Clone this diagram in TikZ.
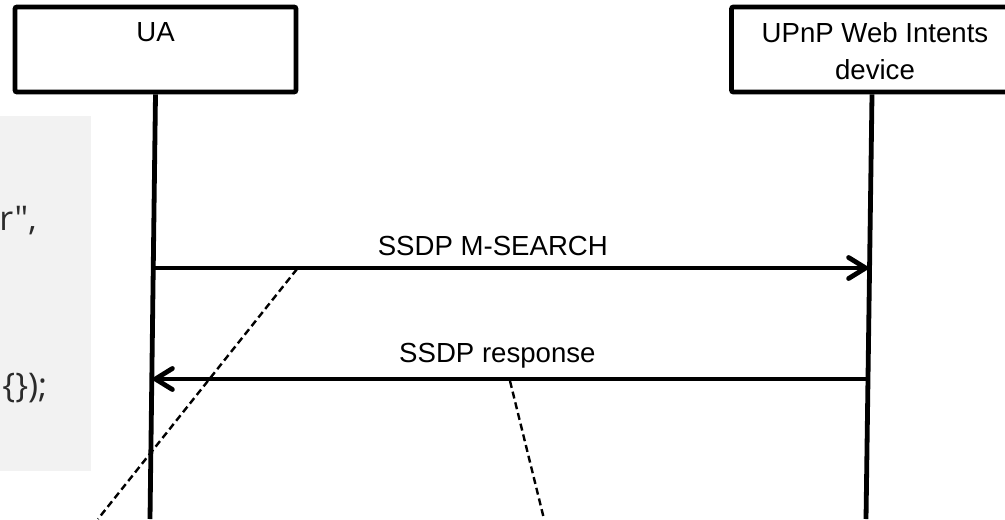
\documentclass[tikz,border=0pt]{standalone}
\usepackage{fontspec}
\setmainfont{Liberation Sans}
\newfontfamily\codefont{Open Sans}
\usetikzlibrary{arrows.meta}
\definecolor{codebg}{HTML}{F2F2F2}
\definecolor{codefg}{HTML}{2B2B2B}
\tikzset{
	entity/.style={
			draw, line width=2.4pt, rounded corners=1pt,
			minimum width=140.5pt, minimum height=42.5pt
		},
	entitytext/.style={font=\fontsize{13.8}{18.5}\selectfont, align=center, inner sep=0pt},
	lifeline/.style={line width=2.4pt},
	message/.style={line width=2.4pt, -{Straight Barb[length=8.5pt,width=10.5pt,round]}},
	msglabel/.style={font=\fontsize{13.8}{16.5}\selectfont, anchor=base, inner sep=0pt},
	cutline/.style={line width=1.2pt, dash pattern=on 3.5pt off 2pt},
	codetext/.style={font=\codefont\fontsize{17}{20}\selectfont, text=codefg, inner sep=0pt}
}

\begin{document}
\begin{tikzpicture}[x=0.5pt, y=-0.5pt]
		\useasboundingbox (0, 0) rectangle (1005, 519);

		\fill[codebg]	(0, 116) rectangle (91, 471);
		\node[codetext, anchor=base east] (coderow1) at (37, 230) {r",};
		\node[codetext, anchor=base west] (coderow2) at (2, 397) {\{\});};

		\node[entity] (ua) at (155.5, 49.5) {};
		\node[entity] (dev) at (872, 49.5) {};
		\node[entitytext, anchor=base] (ualabel) at (155.5, 42) {UA};
		\node[entitytext, anchor=base] (devlabel) at (875, 80) {UPnP Web Intents\\device};

		\coordinate (uaend) at (150, 519);
		\coordinate (devend) at (866, 519);
		\draw[lifeline]	(ua.south) to (uaend);
		\draw[lifeline]	(dev.south) to (devend);

		\coordinate (uasearch) at (152, 268);
		\coordinate (devsearch) at (868, 268);
		\coordinate (devresp) at (869, 379);
		\coordinate (uaresp) at (153, 379);

		\draw[message]	(uasearch) to node[msglabel, pos=0.476, yshift=6.5pt] (searchlabel) {SSDP M-SEARCH} (devsearch);
		\draw[message]	(devresp) to node[msglabel, pos=0.519, yshift=8.5pt] (resplabel) {SSDP response} (uaresp);

		\coordinate (cut1a) at (297, 269);
		\coordinate (cut1b) at (98, 519);
		\coordinate (cut2a) at (510, 381);
		\coordinate (cut2b) at (544, 519);
		\draw[cutline]	(cut1a) to (cut1b);
		\draw[cutline]	(cut2a) to (cut2b);
	\end{tikzpicture}
\end{document}
